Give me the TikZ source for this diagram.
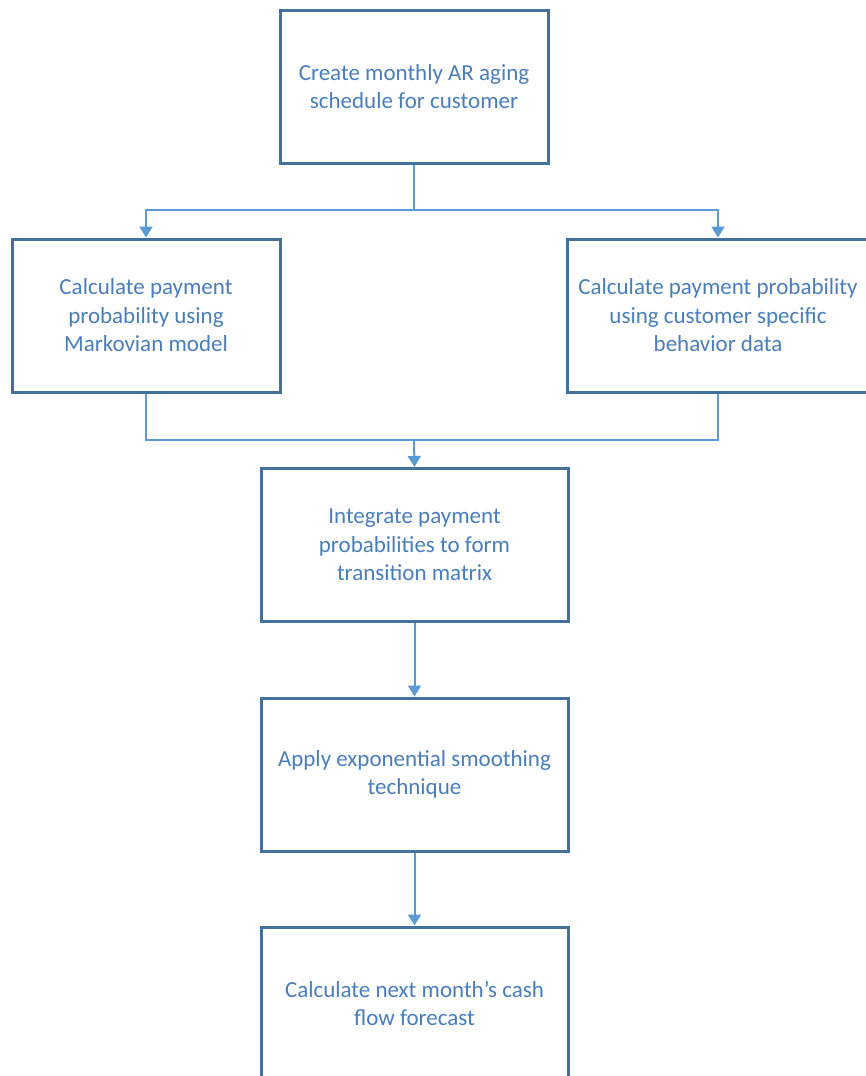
\documentclass[tikz,border=0pt]{standalone}
\usepackage{fontspec}
\setmainfont{Carlito}
\usetikzlibrary{arrows.meta}
\definecolor{boxline}{HTML}{41719C}
\definecolor{linkline}{HTML}{5B9BD5}
\definecolor{boxtext}{HTML}{4A7EBB}
\tikzset{
  stepbox/.style={draw=boxline, line width=3pt, fill=white, align=center,
    text=boxtext, font=\fontsize{23}{28.5}\selectfont,
    minimum width=268pt, minimum height=153pt, inner sep=0pt},
  link/.style={draw=linkline, line width=2pt,
    -{Triangle[width=13pt,length=11pt]}},
  plain/.style={draw=linkline, line width=2pt}
}
\begin{document}
\begin{tikzpicture}[x=1pt,y=-1pt]
  \useasboundingbox (0,0) rectangle (866,1076);
  \clip (0,0) rectangle (866,1076);
  % top: aging schedule
  \node[stepbox] (aging) at (414,86.5) {Create monthly AR aging\\schedule for customer};
  % two ways to the payment probability
  \node[stepbox] (markov) at (146,315.5) {Calculate payment\\probability using\\Markovian model};
  \node[stepbox, minimum width=302pt] (behav) at (718,315.5)
    {Calculate payment probability\\using customer specific\\behavior data};
  % then down the middle
  \node[stepbox, minimum width=307pt] (integ) at (414.5,545)
    {Integrate payment\\probabilities to form\\transition matrix};
  \node[stepbox, minimum width=307pt] (smooth) at (414.5,774.5)
    {Apply exponential smoothing\\technique};
  \node[stepbox, minimum width=307pt] (cash) at (414.5,1003.5)
    {Calculate next month’s cash\\flow forecast};
  % split
  \coordinate (split) at (414,210);
  \draw[plain] (aging.south) -- (split);
  \draw[link] (split) -| (markov.north);
  \draw[link] (split) -| (behav.north);
  % join
  \coordinate (join) at (414,440);
  \draw[plain] (markov.south) |- (join);
  \draw[plain] (behav.south) |- (join);
  \draw[link] (join) -- (integ.north);
  \draw[link] (integ.south) -- (smooth.north);
  \draw[link] (smooth.south) -- (cash.north);
\end{tikzpicture}
\end{document}
